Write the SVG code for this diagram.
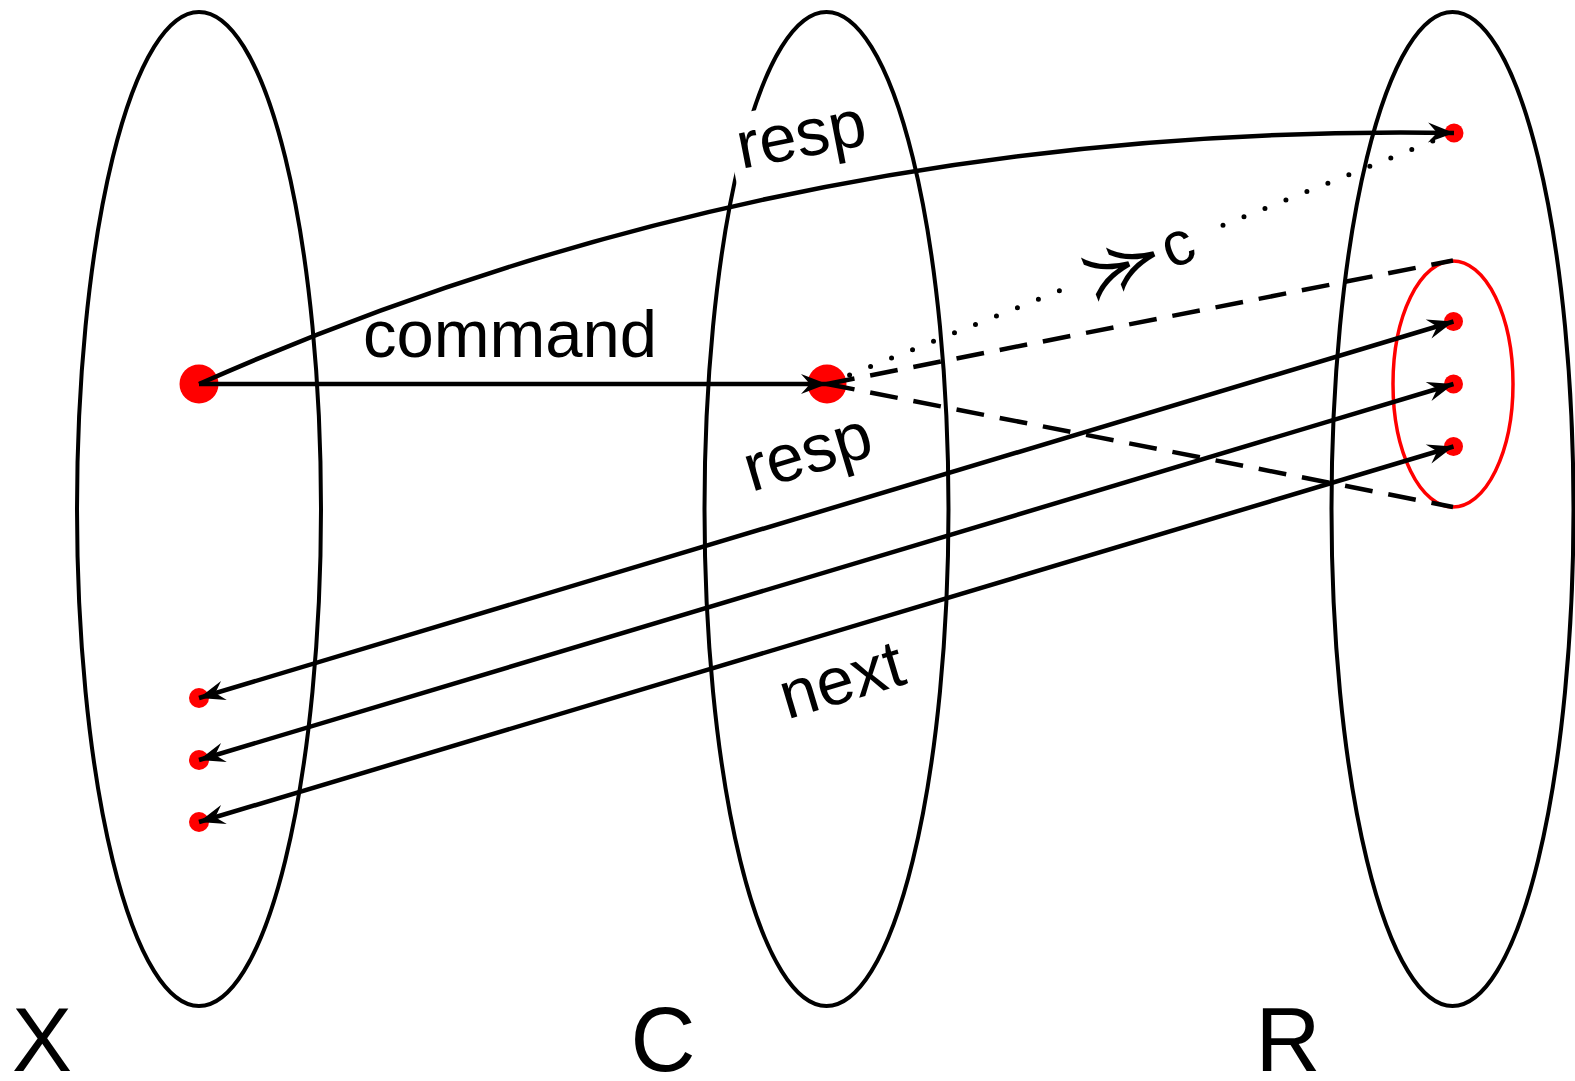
<svg xmlns="http://www.w3.org/2000/svg" width="1575" height="1081" viewBox="0 0 1575 1081">
<style>
.set{fill:none;stroke:#000;stroke-width:4}
.sub{fill:none;stroke:#f00;stroke-width:3.5}
.dot{fill:#f00;stroke:none}
.arr{fill:none;stroke:#000;stroke-width:4.5}
.dash{fill:none;stroke:#000;stroke-width:4.5;stroke-dasharray:28 16}
.dotted{fill:none;stroke:#000;stroke-width:5;stroke-linecap:round;stroke-dasharray:0 22.6}
.lbl{font-family:"Liberation Sans",Arial,sans-serif;font-size:67px;fill:#000}
.big{font-family:"Liberation Sans",Arial,sans-serif;font-size:90px;fill:#000}
.sym{font-family:"DejaVu Sans","Liberation Sans",sans-serif;font-weight:200;font-size:68px;fill:#000}
</style>
<defs>
<marker id="ah" viewBox="-27 -11 30 22" refX="0" refY="0" markerWidth="30" markerHeight="22" markerUnits="userSpaceOnUse" orient="auto-start-reverse" overflow="visible">
<path d="M0,0 L-26,-10 L-17,0 L-26,10 Z" fill="#000"/>
</marker>
</defs>
<rect width="1575" height="1081" fill="#fff"/>
<g id="set-X"><ellipse class="set" cx="199" cy="509" rx="122" ry="497"/></g>
<g id="set-C"><ellipse class="set" cx="826.5" cy="509" rx="122" ry="497"/></g>
<g id="set-R"><ellipse class="set" cx="1452.5" cy="509" rx="121" ry="497"/></g>
<g id="subset-R"><ellipse class="sub" cx="1453" cy="384" rx="60" ry="123"/></g>
<rect x="-72" y="-40" width="146" height="80" fill="#fff" transform="translate(802,142) rotate(-11)"/>
<g id="points">
<circle class="dot" cx="199" cy="384" r="19.5"/>
<circle class="dot" cx="827" cy="384" r="19.5"/>
<circle class="dot" cx="1454" cy="133" r="9.5"/>
<circle class="dot" cx="1453.5" cy="321.5" r="9.5"/>
<circle class="dot" cx="1453.5" cy="384" r="9.5"/>
<circle class="dot" cx="1453.5" cy="446.5" r="9.5"/>
<circle class="dot" cx="199" cy="698" r="10"/>
<circle class="dot" cx="199" cy="760" r="10"/>
<circle class="dot" cx="199" cy="822" r="10"/>
</g>
<g id="connectors">
<line class="arr" x1="199" y1="384" x2="827" y2="384" marker-end="url(#ah)"/>
<path class="arr" d="M199,384 Q790,122 1454,133" marker-end="url(#ah)"/>
<line class="dash" x1="827" y1="384" x2="1453" y2="260.5"/>
<line class="dash" x1="827" y1="384" x2="1453" y2="507"/>
<line class="dotted" x1="849.6" y1="374.9" x2="1062" y2="289.8"/>
<line class="dotted" x1="1223" y1="225.2" x2="1440" y2="138.2"/>
<line class="arr" x1="199" y1="698" x2="1453.5" y2="321.5" marker-start="url(#ah)" marker-end="url(#ah)"/>
<line class="arr" x1="199" y1="760" x2="1453.5" y2="384" marker-start="url(#ah)" marker-end="url(#ah)"/>
<line class="arr" x1="199" y1="822" x2="1453.5" y2="446.5" marker-start="url(#ah)" marker-end="url(#ah)"/>
</g>
<g id="labels">
<text class="lbl" x="510" y="357" text-anchor="middle">command</text>
<text class="lbl" text-anchor="middle" transform="translate(802,140) rotate(-11)" y="17">resp</text>
<text class="lbl" text-anchor="middle" transform="translate(809,457) rotate(-16.7)" y="17">resp</text>
<text class="lbl" text-anchor="middle" transform="translate(843,685) rotate(-16.7)" y="17">next</text>
<text class="sym" text-anchor="middle" transform="translate(1122,266) rotate(-21.8)" y="22">≻<tspan dx="-30">≻</tspan></text>
<text class="lbl" style="font-size:62px" text-anchor="middle" transform="translate(1179,249) rotate(-21.8)" y="16">c</text>
<text class="big" x="42" y="1071" text-anchor="middle">X</text>
<text class="big" x="663" y="1071" text-anchor="middle">C</text>
<text class="big" x="1288" y="1071" text-anchor="middle">R</text>
</g>
</svg>
